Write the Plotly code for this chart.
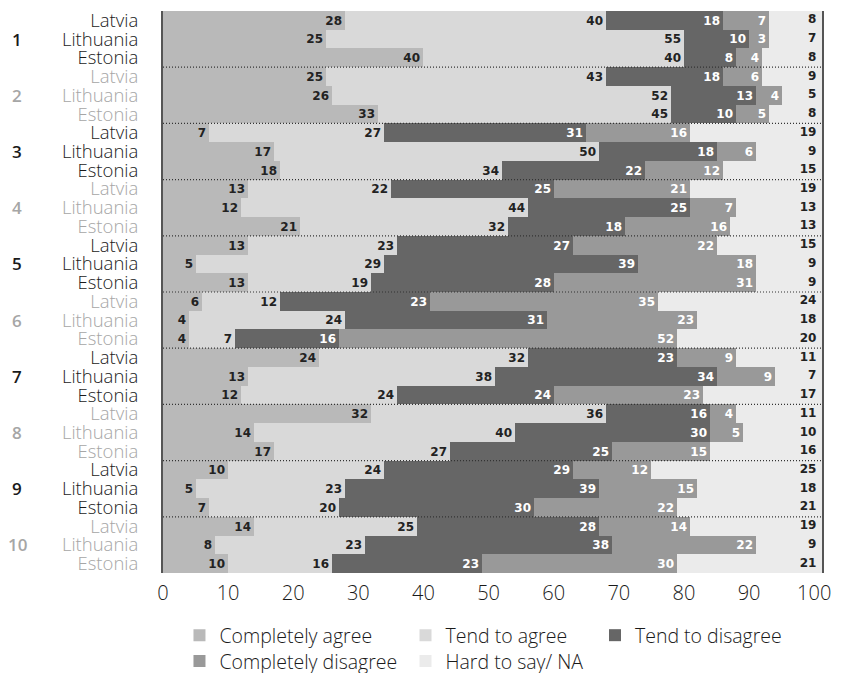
import plotly.graph_objects as go

groups = ["1", "2", "3", "4", "5", "6", "7", "8", "9", "10"]
countries = ["Latvia", "Lithuania", "Estonia"]
series_names = ["Completely agree", "Tend to agree", "Tend to disagree",
                "Completely disagree", "Hard to say/ NA"]

completely_agree = [28, 25, 40, 25, 26, 33, 7, 17, 18, 13, 12, 21, 13, 5, 13,
                    6, 4, 4, 24, 13, 12, 32, 14, 17, 10, 5, 7, 14, 8, 10]
tend_to_agree = [40, 55, 40, 43, 52, 45, 27, 50, 34, 22, 44, 32, 23, 29, 19,
                 12, 24, 7, 32, 38, 24, 36, 40, 27, 24, 23, 20, 25, 23, 16]
tend_to_disagree = [18, 10, 8, 18, 13, 10, 31, 18, 22, 25, 25, 18, 27, 39, 28,
                    23, 31, 16, 23, 34, 24, 16, 30, 25, 29, 39, 30, 28, 38, 23]
completely_disagree = [7, 3, 4, 6, 4, 5, 16, 6, 12, 21, 7, 16, 22, 18, 31,
                       35, 23, 52, 9, 9, 23, 4, 5, 15, 12, 15, 22, 14, 22, 30]
hard_to_say = [8, 7, 8, 9, 5, 8, 19, 9, 15, 19, 13, 13, 15, 9, 9,
               24, 18, 20, 11, 7, 17, 11, 10, 16, 25, 18, 21, 19, 9, 21]

x_ticks = [0, 10, 20, 30, 40, 50, 60, 70, 80, 90, 100]

# styling
colors = ["#b9b9b9", "#d9d9d9", "#666666", "#999999", "#ebebeb"]
label_colors = ["#222222", "#222222", "#ffffff", "#ffffff", "#222222"]
dark_txt = "#1a1a1a"
grey_txt = "#a6a6a6"
X_MAX = 101.2
LABEL_FONT = "Open Sans"

n_rows = len(groups) * len(countries)
rows = list(range(n_rows))
series = [completely_agree, tend_to_agree, tend_to_disagree,
          completely_disagree, hard_to_say]
legend_ids = ["legend", "legend2", "legend3", "legend4", "legend5"]

fig = go.Figure()
for i, (name, vals) in enumerate(zip(series_names, series)):
    show_text = i < 4
    fig.add_trace(go.Bar(
        name=name,
        y=rows,
        x=vals,
        orientation="h",
        marker=dict(color=colors[i], line=dict(width=0)),
        text=[str(v) for v in vals] if show_text else None,
        textposition="inside" if show_text else "none",
        insidetextanchor="end",
        textangle=0,
        constraintext="none",
        insidetextfont=dict(family="DejaVu Sans", size=12, color=label_colors[i], weight="bold"),
        legend=legend_ids[i],
        hoverinfo="skip",
    ))

# labels of "Hard to say" at the right end
fig.add_trace(go.Scatter(
    x=[100.35] * n_rows,
    y=rows,
    mode="text",
    text=[str(v) for v in hard_to_say],
    textposition="middle left",
    textfont=dict(family="DejaVu Sans", size=12, color="#222222", weight="bold"),
    showlegend=False,
    hoverinfo="skip",
    cliponaxis=False,
))

# tick texts for countries (alternating colours by group)
ticktext = []
for g in range(len(groups)):
    col = dark_txt if g % 2 == 0 else grey_txt
    for c in countries:
        ticktext.append(f'<span style="color:{col}">{c}</span>')

shapes = []
for g in range(1, len(groups)):
    shapes.append(dict(
        type="line", xref="paper", x0=0, x1=1, yref="y",
        y0=g * 3 - 0.5, y1=g * 3 - 0.5,
        line=dict(color="#333333", width=1.2, dash="1px,2px"),
        layer="above",
    ))

annotations = []
for g, lab in enumerate(groups):
    col = dark_txt if g % 2 == 0 else grey_txt
    annotations.append(dict(
        xref="paper", yref="y", x=-0.2215, y=g * 3 + 1,
        text=lab, showarrow=False, xanchor="center", yanchor="middle",
        font=dict(family=LABEL_FONT, size=17, color=col, weight=600),
    ))

legend_pos = [(0.025, -0.1112), (0.368, -0.1112), (0.6555, -0.1112),
              (0.025, -0.1570), (0.368, -0.1570)]
legend_layout = {}
for lid, (lx, ly) in zip(legend_ids, legend_pos):
    legend_layout[lid] = dict(
        x=lx, y=ly, xanchor="left", yanchor="middle", orientation="v",
        bgcolor="rgba(0,0,0,0)", borderwidth=0,
        font=dict(family=LABEL_FONT, size=19.5, color=dark_txt, weight=300),
    )

# the page body adds an 8px margin, so the figure is sized to fit the window
fig.update_layout(
    width=835, height=665,
    margin=dict(l=155, r=21, t=3, b=100, autoexpand=False),
    barmode="stack",
    bargap=0,
    plot_bgcolor=colors[4],
    paper_bgcolor="white",
    uniformtext=dict(minsize=12, mode="show"),
    xaxis=dict(
        range=[0, X_MAX], tickvals=x_ticks, ticktext=[str(t) for t in x_ticks],
        showgrid=False, zeroline=False, showline=False, ticks="",
        tickfont=dict(family=LABEL_FONT, size=20, color=dark_txt, weight=300),
        ticklabelstandoff=6, fixedrange=True, automargin=False,
        ticklabeloverflow="allow",
    ),
    yaxis=dict(
        range=[n_rows - 0.5, -0.5], tickvals=rows, ticktext=ticktext,
        showgrid=False, zeroline=False, showline=True, mirror=True,
        linecolor="#555555", linewidth=2, ticks="",
        tickfont=dict(family=LABEL_FONT, size=18.5, color=dark_txt, weight=300),
        ticklabelstandoff=19, fixedrange=True, automargin=False,
        ticklabeloverflow="allow",
    ),
    shapes=shapes,
    annotations=annotations,
    **legend_layout,
)

fig.write_html("out.html")
